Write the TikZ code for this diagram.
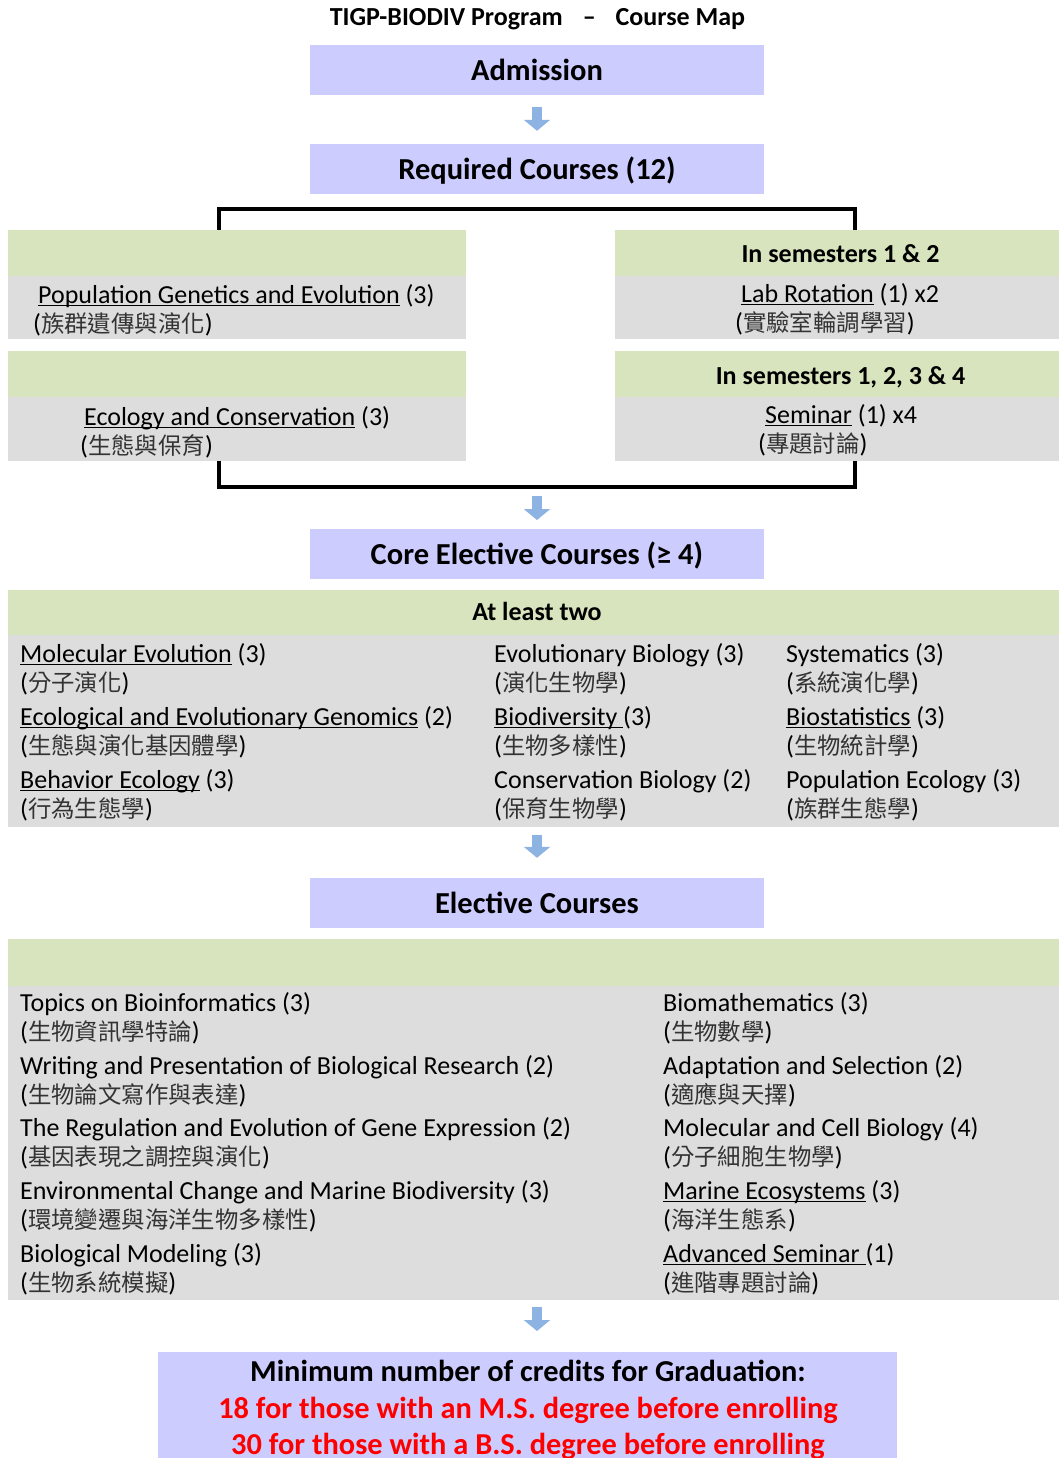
\documentclass[tikz,border=0pt]{standalone}
\usepackage{fontspec}
\setmainfont{Carlito}
\newfontfamily\cjk{Noto Sans CJK TC}[Scale=0.9]
\usetikzlibrary{arrows.meta}
\definecolor{lav}{HTML}{CCCCFF}
\definecolor{grn}{HTML}{D7E4BD}
\definecolor{gry}{HTML}{DDDDDD}
\definecolor{arw}{HTML}{8DB3E2}
\definecolor{myred}{HTML}{FF0000}
\newcommand{\zhl}[1]{({\cjk\color{black!80}#1})}
\newcommand{\uln}[1]{\leavevmode\setbox0\hbox{#1}\rlap{\rule[-3pt]{\wd0}{1.4pt}}\box0\relax}
\newcommand{\crs}[6]{% name, x, baseline y, english, chinese x, chinese
  \node[txt] (#1e) at (#2,#3) {#4};
  \node[txt] (#1c) at (#5,#3+29) {\zhl{#6}};
}
\tikzset{
  lavbox/.style={fill=lav, inner sep=0pt, minimum width=454pt, minimum height=50pt,
    text height=21pt, text depth=0pt, font=\bfseries\fontsize{30.5}{36}\selectfont},
  grnbox/.style={fill=grn, inner sep=0pt, anchor=north west},
  grybox/.style={fill=gry, inner sep=0pt, anchor=north west},
  txt/.style={anchor=base west, inner sep=0pt, font=\fontsize{26}{31}\selectfont},
  head/.style={anchor=base, inner sep=0pt, font=\bfseries\fontsize{26}{31}\selectfont},
  bigtxt/.style={anchor=base, inner sep=0pt, font=\bfseries\fontsize{30.4}{36}\selectfont},
  blockarrow/.style={draw=arw, line width=10pt, -{Triangle[width=26pt,length=11pt]}},
  bracket/.style={line width=4pt, line join=miter}
}
\begin{document}
\begin{tikzpicture}[x=1pt,y=-1pt]
\useasboundingbox (0,0) rectangle (1059,1458);

% title
\node[head] (title) at (537.5,26)
  {TIGP-BIODIV Program\hspace{20pt}–\hspace{20pt}Course Map};

% main boxes
\node[lavbox] (admission) at (537,70) {Admission};
\node[lavbox] (required) at (537,169) {Required Courses (12)};

% bracket
\coordinate (btl) at (219,209);
\coordinate (btr) at (855,209);
\coordinate (bbl) at (219,487);
\coordinate (bbr) at (855,487);
\coordinate (brb) at (537,487);
\draw[bracket] (219,235) -- (btl) -- (btr) -- (855,235);
\draw[bracket] (219,455) -- (bbl) -- (bbr) -- (855,455);

% required course boxes
\node[grnbox, minimum width=458pt, minimum height=46pt] (gL1) at (8,230) {};
\node[grybox, minimum width=458pt, minimum height=63pt] (yL1) at (8,276) {};
\node[grnbox, minimum width=458pt, minimum height=46pt] (gL2) at (8,351) {};
\node[grybox, minimum width=458pt, minimum height=64pt] (yL2) at (8,397) {};
\node[grnbox, minimum width=444pt, minimum height=46pt] (gR1) at (615,230) {};
\node[grybox, minimum width=444pt, minimum height=63pt] (yR1) at (615,276) {};
\node[grnbox, minimum width=444pt, minimum height=46pt] (gR2) at (615,351) {};
\node[grybox, minimum width=444pt, minimum height=64pt] (yR2) at (615,397) {};

\node[head] (hR1) at (840.5,262) {In semesters 1 \& 2};
\node[head] (hR2) at (840.5,384) {In semesters 1, 2, 3 \& 4};

\crs{popgen}{38}{303}{\uln{Population Genetics and Evolution} (3)}{33}{族群遺傳與演化}
\crs{ecocon}{84}{425}{\uln{Ecology and Conservation} (3)}{80}{生態與保育}
\crs{labrot}{741}{302}{\uln{Lab Rotation} (1) x2}{735}{實驗室輪調學習}
\crs{semin}{765}{423}{\uln{Seminar} (1) x4}{758}{專題討論}

% core electives
\draw[blockarrow, shorten <=9pt, shorten >=9pt] (brb) -- (537,529);
\node[lavbox] (core) at (537,553.5) {Core Elective Courses (≥ 4)};

\node[grnbox, minimum width=1051pt, minimum height=45pt] (coregrn) at (8,590) {};
\node[grybox, minimum width=1051pt, minimum height=192pt] (coretab) at (8,635) {};
\node[head] (least) at (537,620) {At least two};

\crs{molevo}{20}{662}{\uln{Molecular Evolution} (3)}{20}{分子演化}
\crs{ecogen}{20}{725}{\uln{Ecological and Evolutionary Genomics} (2)}{20}{生態與演化基因體學}
\crs{beheco}{20}{788}{\uln{Behavior Ecology} (3)}{20}{行為生態學}
\crs{evobio}{494}{662}{Evolutionary Biology (3)}{494}{演化生物學}
\crs{biodiv}{494}{725}{\uln{Biodiversity\ }(3)}{494}{生物多樣性}
\crs{consbio}{494}{788}{Conservation Biology (2)}{494}{保育生物學}
\crs{system}{786}{662}{Systematics (3)}{786}{系統演化學}
\crs{biostat}{786}{725}{\uln{Biostatistics} (3)}{786}{生物統計學}
\crs{popeco}{786}{788}{Population Ecology (3)}{786}{族群生態學}

% electives
\node[lavbox] (elective) at (537,903) {Elective Courses};
\draw[blockarrow, shorten <=8pt, shorten >=20pt] (admission.south |- coretab.south) -- (elective.north);

\node[grnbox, minimum width=1051pt, minimum height=47pt] (elegrn) at (8,939) {};
\node[grybox, minimum width=1051pt, minimum height=314pt] (eletab) at (8,986) {};

\crs{bioinf}{20}{1011}{Topics on Bioinformatics (3)}{20}{生物資訊學特論}
\crs{writing}{20}{1074}{Writing and Presentation of Biological Research (2)}{20}{生物論文寫作與表達}
\crs{regul}{20}{1136}{The Regulation and Evolution of Gene Expression (2)}{20}{基因表現之調控與演化}
\crs{envir}{20}{1199}{Environmental Change and Marine Biodiversity (3)}{20}{環境變遷與海洋生物多樣性}
\crs{biomod}{20}{1262}{Biological Modeling (3)}{20}{生物系統模擬}
\crs{biomath}{663}{1011}{Biomathematics (3)}{663}{生物數學}
\crs{adapt}{663}{1074}{Adaptation and Selection (2)}{663}{適應與天擇}
\crs{molcell}{663}{1136}{Molecular and Cell Biology (4)}{663}{分子細胞生物學}
\crs{marine}{663}{1199}{\uln{Marine Ecosystems} (3)}{663}{海洋生態系}
\crs{advsem}{663}{1262}{\uln{Advanced Seminar\ }(1)}{663}{進階專題討論}

% graduation
\node[fill=lav, inner sep=0pt, anchor=north west, minimum width=739pt, minimum height=106pt] (final) at (158,1352) {};
\draw[blockarrow, shorten <=7pt, shorten >=21pt] (admission.south |- eletab.south) -- (admission.south |- final.north);
\node[bigtxt] (fin1) at (528,1381) {Minimum number of credits for Graduation:};
\node[bigtxt, text=myred] (fin2) at (528,1418) {18 for those with an M.S. degree before enrolling};
\node[bigtxt, text=myred] (fin3) at (528,1454) {30 for those with a B.S. degree before enrolling};

% first arrow
\draw[blockarrow, shorten <=12pt, shorten >=13pt] (admission.south) -- (required.north);
\end{tikzpicture}
\end{document}
